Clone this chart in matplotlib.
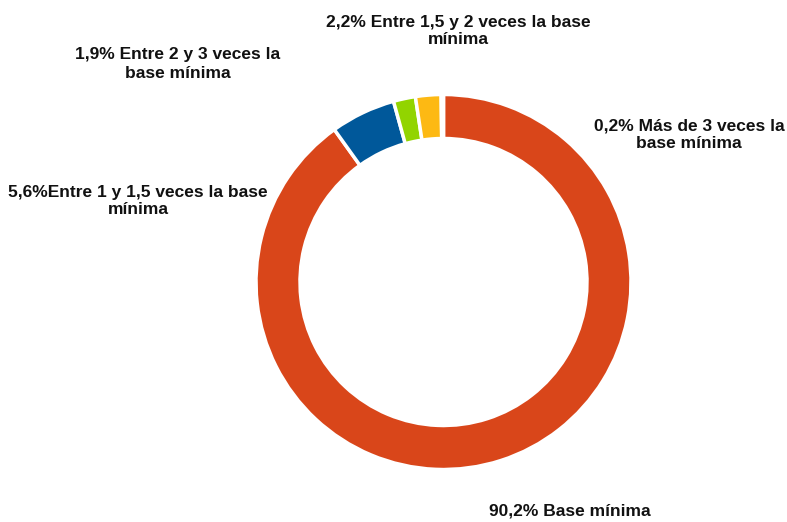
import matplotlib.pyplot as plt

plt.rcParams['font.family'] = ['Liberation Sans', 'DejaVu Sans']

valores = [90.2, 5.6, 1.9, 2.2, 0.2]
categorias = ['Base mínima', 'Entre 1 y 1,5 veces la base mínima',
              'Entre 2 y 3 veces la base mínima',
              'Entre 1,5 y 2 veces la base mínima',
              'Más de 3 veces la base mínima']
etiquetas = ['90,2% Base mínima',
             '5,6%Entre 1 y 1,5 veces la base\nmínima',
             '1,9% Entre 2 y 3 veces la\nbase mínima',
             '2,2% Entre 1,5 y 2 veces la base\nmínima',
             '0,2% Más de 3 veces la\nbase mínima']
colores = ['#D9461A', '#00589A', '#92D400', '#FDB913', '#FFFFFF']

# label centres in pixels (x, y from top)
pos_etiquetas = [(570, 511), (138, 201), (178, 64), (458, 31), (689, 135)]

W, H = 787, 522
fig = plt.figure(figsize=(W / 100, H / 100), dpi=100)
ax = fig.add_axes([0, 0, 1, 1])
ax.set_xlim(0, W)
ax.set_ylim(0, H)
ax.set_aspect('equal')
ax.axis('off')

ax.pie(valores, colors=colores, startangle=90, counterclock=False,
       center=(443.5, H - 282), radius=187.5,
       wedgeprops=dict(width=44, edgecolor='white', linewidth=2.5))
ax.set_xlim(0, W)
ax.set_ylim(0, H)

for txt, (x, y) in zip(etiquetas, pos_etiquetas):
    ax.text(x, H - y, txt, ha='center', va='center', fontsize=12.5,
            fontweight='bold', color='#111111', linespacing=1.25)

fig.savefig('out.png', dpi=100)
